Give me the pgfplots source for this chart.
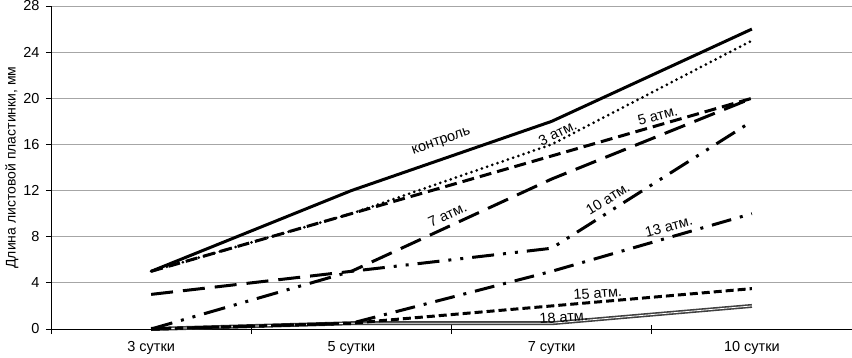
\documentclass[border=0pt]{standalone}
\usepackage{fontspec}
\setmainfont{Liberation Sans}
\usepackage{pgfplots}
\pgfplotsset{compat=1.18}
\usetikzlibrary{calc}
\begin{document}
\begin{tikzpicture}
\begin{axis}[
  name=ax,
  scale only axis,
  width=801bp, height=323bp,
  xmin=-0.5, xmax=3.5, ymin=0, ymax=28,
  axis x line=bottom, axis y line=left,
  axis line style={-, black, line width=0.8bp},
  xtick={0,1,2,3},
  xticklabels={3 сутки,5 сутки,7 сутки,10 сутки},
  major x tick style={draw=none},
  minor xtick={-0.5,0.5,1.5,2.5,3.5},
  minor x tick style={black, line width=0.8bp, yshift=4bp},
  minor tick length=9bp,
  tick align=outside,
  ytick={0,4,...,28},
  ymajorgrids,
  grid style={gray!70, line width=0.8bp},
  major y tick style={black, line width=0.8bp},
  major tick length=5bp,
  y tick label style={xshift=-3bp},
  tick label style={font=\fontsize{14.5bp}{16bp}\selectfont},
  xticklabel style={yshift=-4bp},
  /pgf/number format/assume math mode=true,
  ylabel={Длина листовой пластинки, мм},
  ylabel style={font=\fontsize{14bp}{16bp}\selectfont, yshift=-2bp},
  clip=false,
]
% 18 атм (double line)
\addplot[black!75, line width=1.6bp, double=white, double distance=0.8bp] coordinates {(0,0) (1,0.5) (2,0.5) (3,2)};
% 15 атм
\addplot[black, line width=3bp, dash pattern=on 8bp off 4bp] coordinates {(0,0) (1,0.5) (2,2) (3,3.5)};
% 13 атм
\addplot[black, line width=3bp, dash pattern=on 20bp off 9bp on 3bp off 9bp] coordinates {(0,0) (1,0.5) (2,5) (3,10)};
% 10 атм
\addplot[black, line width=3bp, dash pattern=on 22bp off 9bp on 3bp off 9bp on 3bp off 9bp] coordinates {(0,0) (1,5) (2,7) (3,18)};
% 7 атм
\addplot[black, line width=3bp, dash pattern=on 22bp off 10bp] coordinates {(0,3) (1,5) (2,13) (3,20)};
% 5 атм
\addplot[black, line width=3bp, dash pattern=on 12bp off 6bp] coordinates {(0,5) (1,10) (2,15) (3,20)};
% 3 атм
\addplot[black, line width=3bp, line cap=round, dash pattern=on 0bp off 5.5bp] coordinates {(0,5) (1,10) (2,16) (3,25)};
% контроль
\addplot[black, line width=3bp] coordinates {(0,5) (1,12) (2,18) (3,26)};

\begin{scope}[every node/.style={font=\fontsize{14.5bp}{16bp}\selectfont, inner sep=0pt}]
\node[rotate=19] at (axis cs:1.45,16.2) {контроль};
\node[rotate=26] at (axis cs:2.03,17.0) {3 атм.};
\node[rotate=15] at (axis cs:2.53,18.5) {5 атм.};
\node[rotate=25] at (axis cs:1.48,9.9) {7 атм.};
\node[rotate=32] at (axis cs:2.28,11.3) {10 атм.};
\node[rotate=15] at (axis cs:2.585,8.9) {13 атм.};
\node[rotate=4] at (axis cs:2.23,3.1) {15 атм.};
\node[rotate=4] at (axis cs:2.06,1.05) {18 атм.};
\end{scope}
\end{axis}
\pgfresetboundingbox
\path ($(ax.south west)+(-51bp,-28bp)$) rectangle ($(ax.north east)+(0,6bp)$);
\end{tikzpicture}
\end{document}
